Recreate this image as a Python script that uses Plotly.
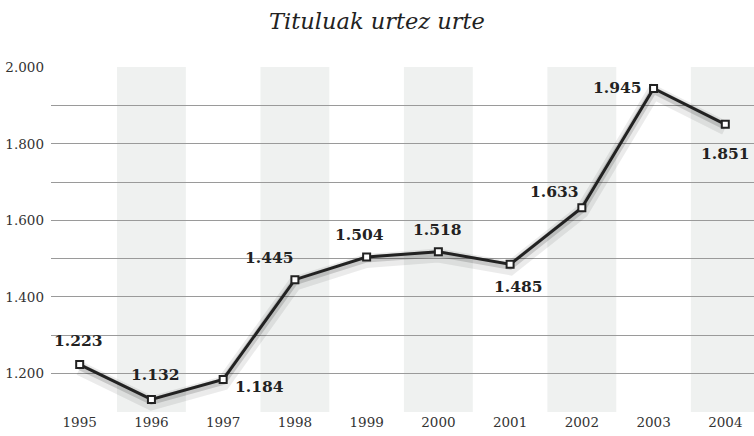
import plotly.graph_objects as go

years = [1995, 1996, 1997, 1998, 1999, 2000, 2001, 2002, 2003, 2004]
values = [1223, 1132, 1184, 1445, 1504, 1518, 1485, 1633, 1945, 1851]
value_labels = ["1.223", "1.132", "1.184", "1.445", "1.504", "1.518", "1.485", "1.633", "1.945", "1.851"]
shaded_years = [1996, 1998, 2000, 2002, 2004]
y_tickvals = [1100, 1200, 1300, 1400, 1500, 1600, 1700, 1800, 1900, 2000]
y_ticktext = ["", "1.200", "", "1.400", "", "1.600", "", "1.800", "", "2.000"]

# label offsets in pixels (style, not data)
label_dx = [-1.5, 4, 36.5, -25, -7, -1, 8, -27, -36.5, 0.5]
label_dy = [24, 24.5, -7, 22, 23, 22, -22, 16, 1, -29]

serif = "DejaVu Serif"

fig = go.Figure()

for yr in shaded_years:
    fig.add_shape(type="rect", xref="x", yref="paper", x0=yr - 0.48, x1=yr + 0.48,
                  y0=0, y1=1, fillcolor="#eff1f0", line_width=0, layer="below")

# soft shadow under the line
shadow_offset = 10
fig.add_trace(go.Scatter(x=years, y=[v - shadow_offset for v in values], mode="lines",
                         line=dict(color="rgba(0,0,0,0.08)", width=14), hoverinfo="skip",
                         showlegend=False))
fig.add_trace(go.Scatter(x=years, y=[v - shadow_offset / 2 for v in values], mode="lines",
                         line=dict(color="rgba(0,0,0,0.15)", width=7), hoverinfo="skip",
                         showlegend=False))

fig.add_trace(go.Scatter(
    x=years, y=values, mode="lines+markers",
    line=dict(color="#222222", width=3),
    marker=dict(symbol="square", size=7, color="white", line=dict(color="#222222", width=2)),
    showlegend=False, cliponaxis=False,
))

for x, y, t, dx, dy in zip(years, values, value_labels, label_dx, label_dy):
    fig.add_annotation(x=x, y=y, text=t, showarrow=False, xanchor="center", yanchor="middle",
                       xshift=dx, yshift=dy,
                       font=dict(family=serif, size=15.5, color="#222222", weight="bold"))

fig.update_layout(
    width=754, height=436,
    margin=dict(l=51, r=0, t=67, b=24),
    paper_bgcolor="white", plot_bgcolor="white",
    title=dict(text="<i>Tituluak urtez urte</i>", x=0.5, xanchor="center",
               y=1 - 21 / 436, yanchor="middle", yref="container",
               font=dict(family=serif, size=22.5, color="#222222")),
    xaxis=dict(range=[1994.6, 2004.4], tickvals=years, ticktext=[str(y) for y in years],
               showgrid=False, zeroline=False, showline=False, ticks="",
               tickfont=dict(family=serif, size=13.5, color="#333333")),
    yaxis=dict(range=[1099, 2001], tickvals=y_tickvals, ticktext=y_ticktext,
               showgrid=True, gridcolor="#9a9a9a", gridwidth=1, zeroline=False,
               showline=False, ticks="", ticklabelstandoff=6,
               tickfont=dict(family=serif, size=13.5, color="#333333")),
)

fig.write_html("out.html", config={"displayModeBar": False},
               post_script="document.body.style.margin='0';")
